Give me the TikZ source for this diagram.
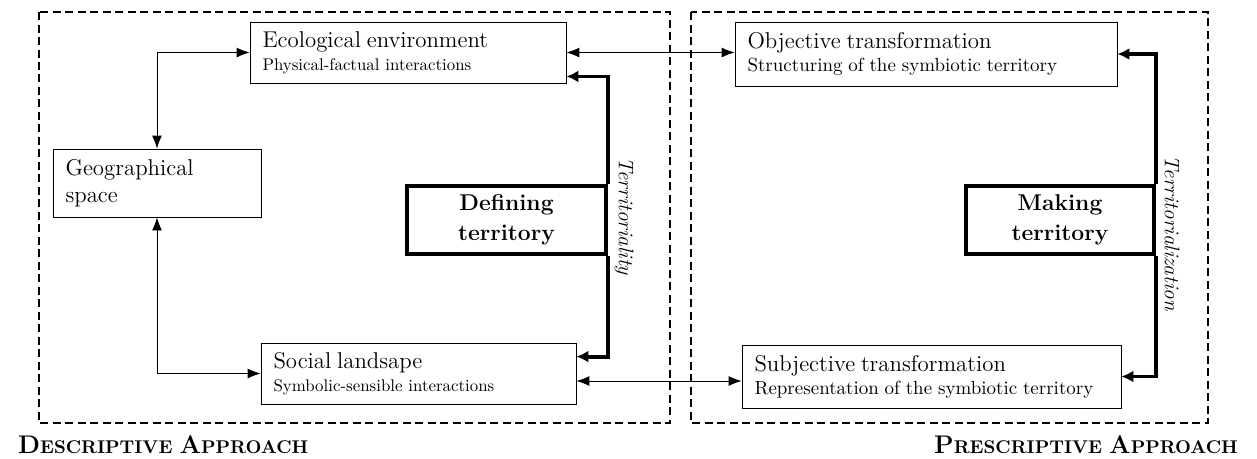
\documentclass[tikz,border=0pt]{standalone}
\usepackage{tikz}
\usetikzlibrary{arrows.meta}

\newcommand{\mainsize}{\fontsize{13}{15}\selectfont}
\newcommand{\subsizel}{\fontsize{9.6}{11}\selectfont}
\newcommand{\subsizer}{\fontsize{10.8}{12}\selectfont}

\begin{document}
\begin{tikzpicture}[x=0.02cm, y=-0.02cm,
  box/.style={draw, line width=0.5pt, align=left, inner xsep=0.25cm, inner ysep=0pt},
  corebox/.style={draw, line width=2.2pt, align=center, font=\fontsize{13}{17}\selectfont\bfseries},
  link/.style={line width=0.5pt, {Latex[length=2.6mm,width=2mm]}-{Latex[length=2.6mm,width=2mm]}},
  thickarrow/.style={line width=2.2pt, -{Latex[length=2.4mm,width=2.4mm]}},
  zone/.style={line width=1pt, dash pattern=on 0.16cm off 0.09cm},
  head/.style={font=\fontsize{10.5}{12}\selectfont\bfseries},
  flow/.style={font=\fontsize{12}{14}\selectfont\itshape, rotate=-90}]

\useasboundingbox (0,0) rectangle (1257,458);

\draw [zone] (39,12) rectangle (670,423) ;
\draw [zone] (691,12) rectangle (1208,423) ;

\node [box, text width=5.82cm, minimum height=1.22cm] (eco) at (408,52.5)
  {\mainsize Ecological environment\\[1pt] \subsizel Physical-factual interactions} ;
\node [box, text width=3.66cm, minimum height=1.36cm, font=\fontsize{13}{15}\selectfont] (geo) at (157,183)
  {Geographical\\ space} ;
\node [box, text width=5.80cm, minimum height=1.22cm] (soc) at (418.5,373.5)
  {\mainsize Social landsape\\[1pt] \subsizel Symbolic-sensible interactions} ;
\node [corebox, minimum width=3.98cm, minimum height=1.36cm] (def) at (506.5,220)
  {Defining\\ territory} ;

\node [box, text width=7.14cm, minimum height=1.28cm] (obj) at (926,54)
  {\mainsize Objective transformation\\[1pt] \subsizer Structuring of the symbiotic territory} ;
\node [box, text width=7.08cm, minimum height=1.26cm] (subj) at (931.5,376.5)
  {\mainsize Subjective transformation\\[1pt] \subsizer Representation of the symbiotic territory} ;
\node [corebox, minimum width=3.76cm, minimum height=1.36cm] (make) at (1060,220)
  {Making\\ territory} ;

\draw [link] (geo.north) |- (eco.west) ;
\draw [link] (geo.south) |- (soc.west) ;
\draw [link] (eco.east) -- (eco.east -| obj.west) ;
\draw [link] ([yshift=-0.15cm]soc.east) -- ([yshift=-0.15cm]soc.east -| subj.west) ;

\draw [thickarrow] (def.north east) |- ([yshift=0.14cm]eco.south east) ;
\draw [thickarrow] (def.south east) |- ([yshift=-0.28cm]soc.north east) ;
\draw [thickarrow] (make.north east) |- (obj.east) ;
\draw [thickarrow] (make.south east) |- (subj.east) ;

\node [flow] (tty) at (624,216) {Territoriality} ;
\node [flow] (ttz) at (1172,233) {Territorialization} ;

\node [head, anchor=base west] (desc) at (12,453)
  {{\fontsize{14.5}{16}\selectfont D}ESCRIPTIVE {\fontsize{14.5}{16}\selectfont A}PPROACH} ;
\node [head, anchor=base east] (pres) at (1244,453)
  {{\fontsize{14.5}{16}\selectfont P}RESCRIPTIVE {\fontsize{14.5}{16}\selectfont A}PPROACH} ;

\end{tikzpicture}
\end{document}
